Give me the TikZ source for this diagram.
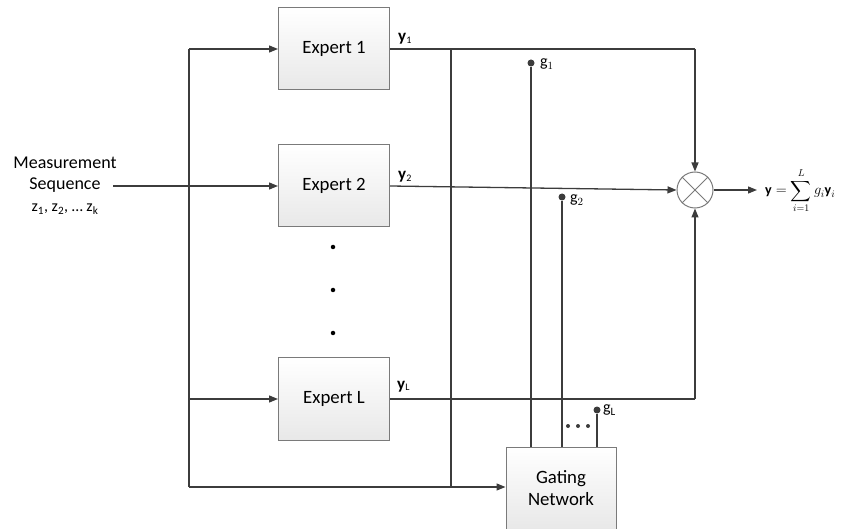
\documentclass[tikz,border=0pt]{standalone}
\usepackage{amsmath}
\usepackage{fontspec}
\setmainfont{Carlito}
\usetikzlibrary{arrows.meta,calc}
\definecolor{ln}{HTML}{3C3C3C}
\definecolor{bx}{HTML}{7A7A7A}
\newcommand{\ysub}[1]{\textbf{y}\raisebox{-1.5pt}{\fontsize{10}{10}\selectfont #1}}
\begin{document}
\begin{tikzpicture}[x=1pt,y=-1pt,
  wire/.style={draw=ln,line width=1.3pt},
  arr/.style={wire,-{Triangle[length=9pt,width=7pt]}},
  expbox/.style={draw=bx,line width=1pt,top color=white,bottom color=black!9,
    minimum width=111pt,minimum height=82pt,font=\fontsize{18.8}{22}\selectfont,
    inner sep=0pt,align=center},
  lbl/.style={font=\fontsize{18}{21}\selectfont,inner sep=0pt},
  ylbl/.style={font=\fontsize{17}{20}\selectfont,inner sep=0pt,anchor=base west},
  glbl/.style={font=\fontsize{16}{18}\selectfont,inner sep=0pt,anchor=west},
  gdot/.style={circle,fill=ln,inner sep=0pt,minimum size=7pt},
  smalldot/.style={circle,fill=black,inner sep=0pt,minimum size=4.5pt},
  mult/.style={circle,draw=bx,line width=1pt,fill=white,minimum size=36pt,inner sep=0pt}
]
\useasboundingbox (0,0) rectangle (849,529);

% input text
\node[lbl] (m1) at (65,163) {Measurement};
\node[lbl] (m2) at (65,185) {Sequence};
\node[lbl,font=\fontsize{16}{19}\selectfont] (m3) at (65,209) {z\textsubscript{1}, z\textsubscript{2}, \dots\ z\textsubscript{k}};

% experts
\node[expbox] (e1) at (334,49) {Expert 1};
\node[expbox] (e2) at (334,186) {Expert 2};
\node[expbox] (eL) at (334,399) {Expert L};
\node[expbox,minimum width=110pt,minimum height=82pt] (gate) at (561,488) {Gating\\Network};

% vertical dots
\node[smalldot] (vd1) at (333,247) {};
\node[smalldot] (vd2) at (333,290) {};
\node[smalldot] (vd3) at (333,333) {};

% multiplier
\node[mult] (mx) at (695,190) {};
\draw[bx,line width=1pt] (mx.north west) -- (mx.south east) (mx.north east) -- (mx.south west);

% coordinates
\coordinate (in) at (113,186);
\coordinate (lt) at (189,49);
\coordinate (lb) at (189,487);
\coordinate (jt) at (451,49);
\coordinate (jb) at (451,487);
\coordinate (c1) at (695,49);
\coordinate (cL) at (695,399);
\coordinate (out) at (757,190);

% input distribution
\draw[arr] (in) -- (e2.west);
\draw[wire] (lt) -- (lb);
\draw[arr] (lt) -- (e1.west);
\draw[arr] (eL.west -| lt) -- (eL.west);
\draw[arr] (lb) -- (gate.west |- lb);
\draw[wire] (lb) -- (jb);
\draw[wire] (jt) -- (jb);

% outputs
\draw[wire] (e1.east) -- (c1);
\draw[arr] (c1) -- (mx.north);
\draw[arr] (e2.east) -- (mx.west);
\draw[wire] (eL.east) -- (cL);
\draw[arr] (cL) -- (mx.south);
\draw[arr] (mx.east) -- (out);

\node[ylbl] (y1) at (398,42) {\ysub{1}};
\node[ylbl] (y2) at (398,180) {\ysub{2}};
\node[ylbl] (yL) at (397,389) {\ysub{L}};

% gates
\node[gdot] (g1) at (531,63) {};
\node[gdot] (g2) at (562,197) {};
\node[gdot] (gL) at (597,410) {};
\draw[wire] (g1) -- (g1 |- gate.north);
\draw[wire] (g2) -- (g2 |- gate.north);
\draw[wire] (gL) -- (gL |- gate.north);
\node[glbl] (g1t) at (540,64) {$\mathrm{g}_1$};
\node[glbl] (g2t) at (570,200) {$\mathrm{g}_2$};
\node[glbl] (gLt) at (603,410) {$\mathrm{g}_\mathrm{L}$};

\node[smalldot,fill=ln,minimum size=4pt] (hd1) at (568,426) {};
\node[smalldot,fill=ln,minimum size=4pt] (hd2) at (578,426) {};
\node[smalldot,fill=ln,minimum size=4pt] (hd3) at (588,426) {};

% formula
\node[anchor=west,inner sep=0pt,font=\fontsize{14}{17}\selectfont] (f) at (765,191)
  {$\displaystyle\mathbf{y}=\sum_{i=1}^{L} g_i\mathbf{y}_i$};
\end{tikzpicture}
\end{document}
